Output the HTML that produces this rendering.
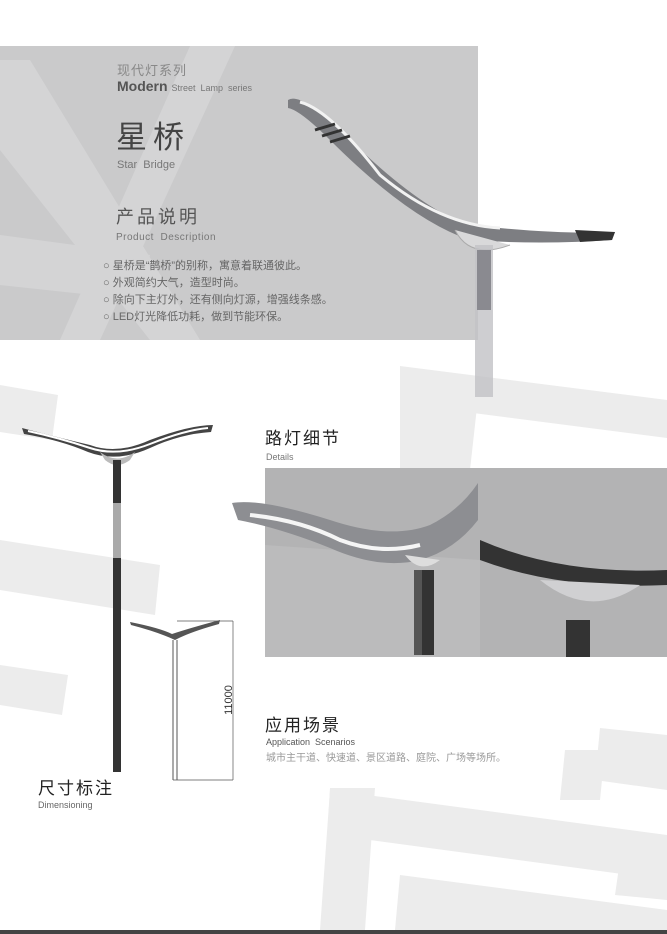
<!DOCTYPE html>
<html><head><meta charset="utf-8"><style>
body{margin:0;width:667px;height:934px;position:relative;overflow:hidden;background:#fff;font-family:"Liberation Sans","Noto Sans CJK SC",sans-serif}
.t{position:absolute;white-space:nowrap;line-height:1}
</style></head><body>
<svg width="667" height="934" style="position:absolute;left:0;top:0">
<g fill="#ececec">
<polygon points="400,366 667,400 667,438 450,410 450,440 430,440 430,395 400,395"/>
<polygon points="400,380 480,380 470,470 400,470"/>
<polygon points="0,385 58,395 52,440 0,432"/>
<polygon points="0,540 160,565 155,615 0,590"/>
<polygon points="0,665 68,675 62,715 0,705"/>
<polygon points="600,728 667,735 667,790 595,780"/>
<polygon points="565,750 605,750 600,800 560,800"/>
<polygon points="330,790 667,835 667,880 370,840 360,930 320,930"/>
<polygon points="330,788 375,788 365,930 322,930"/>
<polygon points="400,875 667,910 667,930 395,930"/>
<polygon points="620,860 667,862 667,900 615,895"/>
</g>
<rect x="0" y="46" width="478" height="294" fill="#cacacb"/>
<g fill="#d6d6d7" opacity="0.9">
<polygon points="0,60 30,60 200,340 150,340 0,150"/>
<polygon points="190,46 235,46 100,340 60,340"/>
<polygon points="0,235 150,255 140,300 0,285"/>
</g>
<rect x="265" y="468" width="402" height="189" fill="#b3b3b4"/>
<polygon points="265,545 480,560 480,657 265,657" fill="#bbbbbc"/>
<path d="M288,100 Q300,92 340,130 Q420,210 470,225 Q560,235 615,232 L612,240 Q540,245 470,240 Q410,220 330,140 Q300,110 288,108 Z" fill="#7d7e82"/>
<path d="M300,102 Q330,110 380,175 Q440,225 500,228" stroke="#f2f2f2" stroke-width="3" fill="none"/>
<path d="M315,130 l20,-6 M322,136 l20,-6 M330,142 l20,-6" stroke="#333" stroke-width="3"/>
<path d="M455,230 Q470,260 510,245" fill="#d9d9da" stroke="#aaa"/>
<rect x="475" y="245" width="18" height="152" fill="#c2c2c5" opacity="0.8"/>
<rect x="477" y="250" width="14" height="60" fill="#8a8a90"/>
<path d="M575,230 L615,232 L612,240 L580,242Z" fill="#333"/>
<path d="M22,428 Q60,438 90,445 Q117,455 150,440 Q190,425 213,425 L211,432 Q180,434 150,448 Q117,463 88,452 Q60,440 24,434 Z" fill="#444"/>
<path d="M28,431 Q60,438 90,448 Q117,457 150,444 Q185,430 208,428" stroke="#fff" stroke-width="2" fill="none"/>
<path d="M100,452 Q117,465 135,452 L130,460 Q117,470 105,460Z" fill="#bbb"/>
<rect x="113" y="460" width="8" height="43" fill="#333"/>
<rect x="113" y="503" width="8" height="55" fill="#aaa"/>
<rect x="113" y="558" width="8" height="214" fill="#333"/>
<path d="M130,622 Q160,628 172,634 Q190,628 220,620 L219,624 Q190,632 175,640 Q158,632 131,625Z" fill="#555"/>
<line x1="173" y1="640" x2="173" y2="780" stroke="#555" stroke-width="1"/>
<line x1="177" y1="640" x2="177" y2="780" stroke="#555" stroke-width="1"/>
<line x1="177" y1="621" x2="233" y2="621" stroke="#555" stroke-width="0.7"/>
<line x1="233" y1="621" x2="233" y2="780" stroke="#555" stroke-width="0.7"/>
<line x1="173" y1="780" x2="233" y2="780" stroke="#555" stroke-width="0.7"/>
<text x="232" y="700" transform="rotate(-90 232 700)" font-family="Liberation Sans" font-size="11" fill="#333" text-anchor="middle">11000</text>
<path d="M232,503 Q260,498 330,520 Q390,540 430,525 Q460,510 478,483 L478,520 Q455,550 420,560 Q380,570 330,548 Q280,528 238,520 Z" fill="#8d8e92"/>
<path d="M250,515 Q300,520 340,540 Q380,555 420,545" stroke="#f5f5f5" stroke-width="4" fill="none"/>
<path d="M405,555 Q420,575 440,560" fill="#ddd"/>
<rect x="414" y="570" width="20" height="85" fill="#333"/>
<rect x="414" y="570" width="8" height="85" fill="#555"/>
<path d="M480,540 Q560,575 667,570 L667,585 Q560,590 480,560Z" fill="#333"/>
<path d="M540,580 Q590,620 640,585Z" fill="#d0d0d2"/>
<rect x="566" y="620" width="24" height="37" fill="#333"/>
<rect x="0" y="930" width="667" height="4" fill="#444"/>
</svg>
<div class="t" style="left:117px;top:64px;font-size:13px;color:#888;letter-spacing:1px">现代灯系列</div>
<div class="t" style="left:117px;top:79px;font-size:14px;color:#555;font-weight:bold">Modern <span style="font-size:9px;font-weight:normal;color:#777">Street&nbsp; Lamp&nbsp; series</span></div>
<div class="t" style="left:116px;top:122px;font-size:31px;color:#444;letter-spacing:6px">星桥</div>
<div class="t" style="left:117px;top:160px;font-size:11px;color:#777">Star&nbsp; Bridge</div>
<div class="t" style="left:116px;top:208px;font-size:18px;color:#555;letter-spacing:3px">产品说明</div>
<div class="t" style="left:116px;top:233px;font-size:10px;color:#777;letter-spacing:0.5px">Product&nbsp; Description</div>
<div class="t" style="left:103px;top:258px;font-size:11px;color:#666;line-height:17px">○ 星桥是“鹊桥”的别称，寓意着联通彼此。<br>○ 外观简约大气，造型时尚。<br>○ 除向下主灯外，还有侧向灯源，增强线条感。<br>○ LED灯光降低功耗，做到节能环保。</div>
<div class="t" style="left:265px;top:430px;font-size:17px;color:#222;letter-spacing:2px">路灯细节</div>
<div class="t" style="left:266px;top:453px;font-size:9px;color:#777">Details</div>
<div class="t" style="left:265px;top:717px;font-size:17px;color:#222;letter-spacing:2px">应用场景</div>
<div class="t" style="left:266px;top:738px;font-size:9px;color:#555">Application&nbsp; Scenarios</div>
<div class="t" style="left:266px;top:754px;font-size:10px;color:#999">城市主干道、快速道、景区道路、庭院、广场等场所。</div>
<div class="t" style="left:38px;top:780px;font-size:17px;color:#222;letter-spacing:2px">尺寸标注</div>
<div class="t" style="left:38px;top:801px;font-size:9px;color:#666">Dimensioning</div>
</body></html>
